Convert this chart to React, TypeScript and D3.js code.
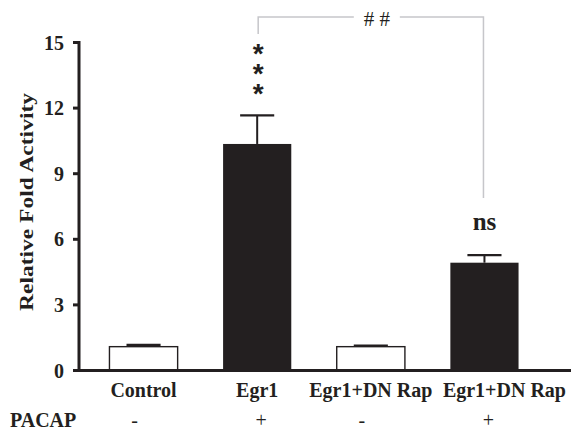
import React from 'react';
import * as d3 from 'd3';

const categories = ['Control', 'Egr1', 'Egr1+DN Rap', 'Egr1+DN Rap'];
const means = [1.09, 10.36, 1.09, 4.93];
const errors = [0.08, 1.31, 0.05, 0.35];
const pacap = ['-', '+', '-', '+'];
const filled = [false, true, false, true];
const yTicks = [0, 3, 6, 9, 12, 15];

const W = 586;
const H = 432;
const ink = '#231f20';
const serif = '"Liberation Serif", "Times New Roman", serif';

const App: React.FC = () => {
  const x = d3.scaleBand<number>().domain(d3.range(categories.length)).range([64, 564]).padding(0.4);
  const y = d3.scaleLinear().domain([0, 15]).range([370.5, 42.5]);
  const bw = x.bandwidth();
  const cx = (i: number) => (x(i) as number) + bw / 2;
  const axisX = 79;

  // bracket between Egr1 and the last bar
  const bx1 = cx(1) + 1;
  const bx2 = cx(3) - 1;
  const bTop = 17;
  const hashX = (bx1 + bx2) / 2 + 6;
  const errTop = y(means[1] + errors[1]);

  return (
    <svg width={W} height={H} style={{ position: 'absolute', left: 0, top: 0, background: '#fff' }}>
      {/* bars */}
      {means.map((m, i) => (
        <g key={i}>
          <line x1={cx(i)} x2={cx(i)} y1={y(m)} y2={y(m + errors[i])} stroke={ink} strokeWidth={2} />
          <line x1={cx(i) - bw * 0.25} x2={cx(i) + bw * 0.25} y1={y(m + errors[i])} y2={y(m + errors[i])} stroke={ink} strokeWidth={2.2} />
          <rect
            x={x(i)}
            y={y(m)}
            width={bw}
            height={y(0) - y(m)}
            fill={filled[i] ? ink : '#fff'}
            stroke={ink}
            strokeWidth={filled[i] ? 0 : 1.4}
          />
        </g>
      ))}

      {/* axes */}
      <line x1={axisX} x2={axisX} y1={y(15) - 1.5} y2={y(0)} stroke={ink} strokeWidth={3} />
      <line x1={73} x2={571} y1={y(0)} y2={y(0)} stroke={ink} strokeWidth={3} />
      {yTicks.map((t) => (
        <g key={t}>
          <line x1={73} x2={axisX} y1={y(t)} y2={y(t)} stroke={ink} strokeWidth={3} />
          <text x={64} y={y(t)} dy="0.35em" textAnchor="end" fontFamily={serif} fontWeight="bold" fontSize={20} fill={ink}>
            {t}
          </text>
        </g>
      ))}
      <text
        transform={`translate(33,202) rotate(-90)`}
        textAnchor="middle"
        fontFamily={serif}
        fontWeight="bold"
        fontSize={19}
        textLength={218}
        lengthAdjust="spacingAndGlyphs"
        fill={ink}
      >
        Relative Fold Activity
      </text>

      {/* category labels */}
      {categories.map((c, i) => (
        <text key={i} x={cx(i) + (i === 3 ? 20 : 0)} y={397} textAnchor="middle" fontFamily={serif} fontWeight="bold" fontSize={20} fill={ink}>
          {c}
        </text>
      ))}
      <text x={10} y={427} fontFamily={serif} fontWeight="bold" fontSize={20} fill={ink}>PACAP</text>
      {pacap.map((p, i) => (
        <text key={i} x={cx(i) + (p === '-' ? -9 : 4)} y={427} textAnchor="middle" fontFamily={serif} fontSize={20} fill={ink}>
          {p}
        </text>
      ))}

      {/* significance */}
      <text textAnchor="middle" fontFamily='"Liberation Sans", Arial, sans-serif' fontWeight="bold" fontSize={28} fill={ink}>
        {[0, 1, 2].map((k) => (
          <tspan key={k} x={cx(1) + 1} y={errTop - 52 + k * 20}>*</tspan>
        ))}
      </text>
      <text x={cx(3)} y={230} textAnchor="middle" fontFamily={serif} fontWeight="bold" fontSize={25} fill={ink}>ns</text>

      <path d={`M${bx1},34V${bTop}H${hashX - 23}M${hashX + 23},${bTop}H${bx2}V198`} fill="none" stroke="#c6c6ca" strokeWidth={1.5} />
      <text x={hashX} y={26} textAnchor="middle" fontFamily={serif} fontSize={21} fill={ink}># #</text>
    </svg>
  );
};

export default App;
